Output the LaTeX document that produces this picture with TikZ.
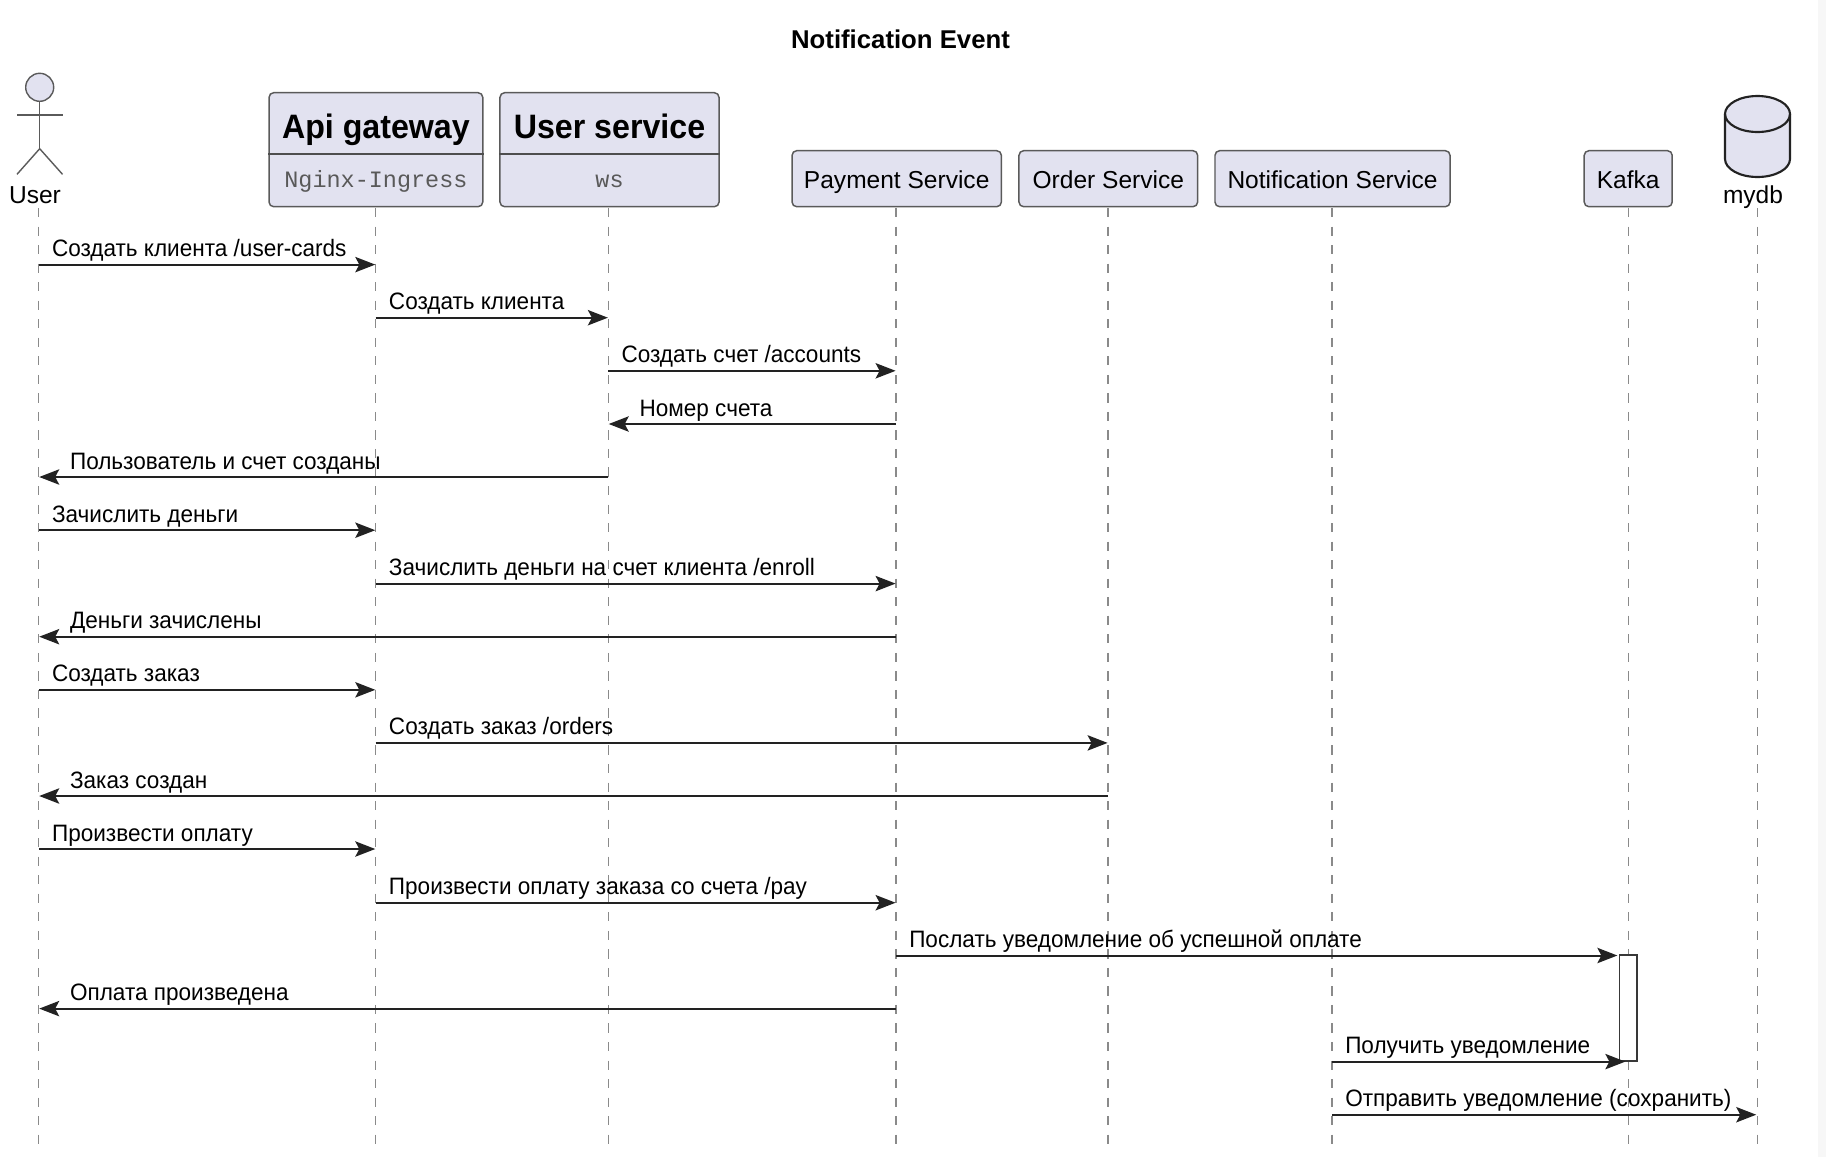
\documentclass[tikz,border=0pt]{standalone}
\usepackage{fontspec}
\setmainfont{Liberation Sans}
\newfontfamily\monof{Liberation Mono}
\newfontfamily\lblf[FakeStretch=0.95]{Liberation Sans}
\usetikzlibrary{arrows.meta}
\definecolor{partfill}{HTML}{E2E2F0}
\definecolor{partline}{HTML}{5A5A5A}
\definecolor{msgcol}{HTML}{222222}
\definecolor{lifecol}{HTML}{8A8A8A}
\definecolor{stripcol}{HTML}{F7F7F7}
\newcommand{\fsz}[1]{\fontsize{#1}{#1}\selectfont}
\tikzset{
  part/.style={draw=partline,fill=partfill,line width=1.1pt,rounded corners=3.5pt,inner sep=0pt},
  partname/.style={inner sep=0pt,anchor=base,font=\fsz{18.4},text=black},
  headname/.style={inner sep=0pt,anchor=base,font=\lblf\bfseries\fsz{25.4},text=black},
  subname/.style={inner sep=0pt,anchor=base,font=\monof\fsz{17.6},text=black!65},
  life/.style={draw=lifecol,line width=1pt,dash pattern=on 6.9pt off 7pt},
  msg/.style={draw=msgcol,line width=1.5pt,-{Stealth[length=15pt,width=11.5pt,inset=3pt]}},
  lbl/.style={anchor=base west,inner sep=0pt,font=\lblf\fsz{17.8},text=black},
  actorline/.style={draw=partline,line width=1.05pt},
  dbline/.style={draw=msgcol,line width=1.6pt,line join=round},
  activation/.style={draw=msgcol!90,fill=white,line width=1.3pt},
  divider/.style={draw=msgcol!80,line width=1.5pt}
}
\newcommand{\msgR}[6][0.3pt]{%
  \coordinate (#2) at (0,#5);
  \draw[msg,shorten >=#1] (#3|-#2) -- (#4|-#2);
  \node[lbl] (#2t) at ([shift={(13,-8)}]#3|-#2) {#6};
}
\newcommand{\msgL}[5]{%
  \coordinate (#1) at (0,#4);
  \draw[msg,shorten >=0.3pt] (#2|-#1) -- (#3|-#1);
  \node[lbl] (#1t) at ([shift={(31,-8)}]#3|-#1) {#5};
}
\begin{document}
\begin{tikzpicture}[x=0.75pt,y=-0.75pt]
\useasboundingbox (0,0) rectangle (1826,1157);
\fill[stripcol] (1818,0) rectangle (1826,1157);

% title
\node[inner sep=0pt,font=\bfseries\fsz{19.3}] (title) at (900.5,39) {Notification Event};

% lifeline coordinates
\coordinate (lUser) at (38.8,208);
\coordinate (lApi) at (375.7,208);
\coordinate (lWs) at (608.3,208);
\coordinate (lPay) at (896,208);
\coordinate (lOrder) at (1108,208);
\coordinate (lNot) at (1332,208);
\coordinate (lKaf) at (1628.3,208);
\coordinate (lDb) at (1757.3,208);
\coordinate (lEnd) at (0,1144.5);

\foreach \n in {lUser,lApi,lWs,lPay,lOrder,lNot,lKaf,lDb}{
  \draw[life] (\n) -- (\n|-lEnd);
}

% actor
\node[draw=partline,fill=partfill,line width=1.05pt,circle,minimum size=21pt,inner sep=0pt] (userhead) at (39.7,87.3) {};
\coordinate (hip) at (39.7,148.7);
\coordinate (armL) at (17,115);
\coordinate (armR) at (62.5,115);
\coordinate (footL) at (17,174.3);
\coordinate (footR) at (62.5,174.3);
\draw[actorline] (userhead.south) -- (hip);
\draw[actorline] (armL) -- (armR);
\draw[actorline] (footL) -- (hip) -- (footR);
\node[partname] (usertxt) at (35,203.5) {User};

% participants
\node[part,minimum width=160.3pt,minimum height=85.5pt] (api) at (375.9,149.7) {};
\draw[divider] (api.west|-0,153.7) -- (api.east|-0,153.7);
\node[headname] (apiT) at (375.9,138.5) {Api gateway};
\node[subname] (apiS) at (375.9,187.3) {Nginx-Ingress};

\node[part,minimum width=164.3pt,minimum height=85.5pt] (ws) at (609.5,149.7) {};
\draw[divider] (ws.west|-0,153.7) -- (ws.east|-0,153.7);
\node[headname] (wsT) at (609.5,138.5) {User service};
\node[subname] (wsS) at (609.5,187.3) {ws};

\node[part,minimum width=157pt,minimum height=42pt] (pay) at (896.7,178.7) {};
\node[partname] (payT) at (896.7,188.3) {Payment Service};
\node[part,minimum width=134pt,minimum height=42pt] (ord) at (1108.3,178.7) {};
\node[partname] (ordT) at (1108.3,188.3) {Order Service};
\node[part,minimum width=176.3pt,minimum height=42pt] (nots) at (1332.5,178.7) {};
\node[partname] (notT) at (1332.5,188.3) {Notification Service};
\node[part,minimum width=66pt,minimum height=42pt] (kaf) at (1628.2,178.7) {};
\node[partname] (kafT) at (1628.2,188.3) {Kafka};

% database
\coordinate (dbC) at (1757.5,114);
\fill[partfill] (1725,114) -- (1725,159) arc[x radius=32.5,y radius=18,start angle=180,end angle=0] -- (1790,114) arc[x radius=32.5,y radius=18,start angle=0,end angle=-180] -- cycle;
\draw[dbline] (1725,114) -- (1725,159) arc[x radius=32.5,y radius=18,start angle=180,end angle=0] -- (1790,114);
\draw[dbline] (dbC) ellipse[x radius=32.5,y radius=18];
\node[partname] (dbT) at (1753,203.5) {mydb};

% activation
\node[activation,minimum width=13.2pt,minimum height=79.6pt,inner sep=0pt] (act) at (1628.2,1008) {};

% messages
\msgR{m1}{lUser}{lApi}{264.6}{Создать клиента /user-cards}
\msgR{m2}{lApi}{lWs}{317.7}{Создать клиента}
\msgR{m3}{lWs}{lPay}{370.8}{Создать счет /accounts}
\msgL{m4}{lPay}{lWs}{424}{Номер счета}
\msgL{m5}{lWs}{lUser}{477}{Пользователь и счет созданы}
\msgR{m6}{lUser}{lApi}{530.2}{Зачислить деньги}
\msgR{m7}{lApi}{lPay}{583.6}{Зачислить деньги на счет клиента /enroll}
\msgL{m8}{lPay}{lUser}{636.7}{Деньги зачислены}
\msgR{m9}{lUser}{lApi}{689.8}{Создать заказ}
\msgR{m10}{lApi}{lOrder}{742.9}{Создать заказ /orders}
\msgL{m11}{lOrder}{lUser}{796}{Заказ создан}
\msgR{m12}{lUser}{lApi}{849}{Произвести оплату}
\msgR{m13}{lApi}{lPay}{902.7}{Произвести оплату заказа со счета /pay}
\msgR[8.2pt]{m14}{lPay}{lKaf}{955.5}{Послать уведомление об успешной оплате}
\msgL{m15}{lPay}{lUser}{1008.6}{Оплата произведена}
\msgR[2.2pt]{m16}{lNot}{lKaf}{1061.6}{Получить уведомление}
\msgR[0.8pt]{m17}{lNot}{lDb}{1114.7}{Отправить уведомление (сохранить)}
\end{tikzpicture}
\end{document}
